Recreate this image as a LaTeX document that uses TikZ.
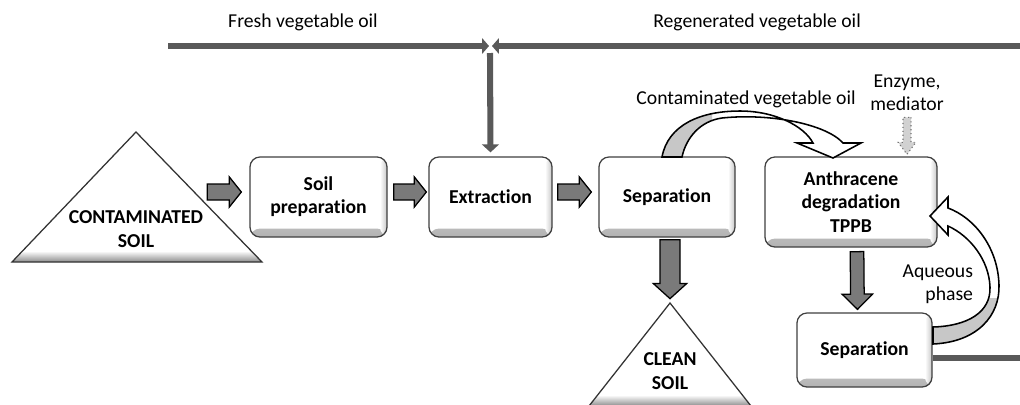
\documentclass[tikz,border=0pt]{standalone}
\usepackage{fontspec}
\setmainfont{Carlito}[Ligatures={NoCommon}]
\usetikzlibrary{calc,arrows.meta}

\tikzset{
  procbox/.style={draw=black!75, line width=0.9pt, fill=white, rounded corners=0.25cm,
    align=center, font=\fontsize{14}{16.5}\selectfont\bfseries, inner sep=2pt,
    path picture={
      \shade[top color=white, bottom color=black!30]
        ([yshift=6pt]path picture bounding box.south west) rectangle (path picture bounding box.south east);
      \shade[left color=white, right color=black!22]
        ([xshift=-5pt]path picture bounding box.north east) rectangle (path picture bounding box.south east);
    }},
  soiltext/.style={align=center, font=\fontsize{14}{17}\selectfont\bfseries},
  oiltext/.style={align=center},
  oilline/.style={line width=4.3pt, draw=black!65},
  blockarr/.style={fill=black!52, draw=black, line width=0.9pt, line join=miter},
  dotarr/.style={fill=black!18, draw=black!55, dotted, line width=0.8pt},
  ribbon/.style={draw=black, line width=1.1pt, line join=miter},
  soiltri/.style={draw=black!80, line width=0.9pt}
}

% tail, tip, half shaft, half head, head length
\newcommand{\blockarrow}[6][blockarr]{%
  \coordinate (hb) at ($(#3)!#6!(#2)$);
  \filldraw[#1] ($(#2)!#4!90:(#3)$) -- ($(hb)!#4!90:(#3)$) -- ($(hb)!#5!90:(#3)$) -- (#3)
    -- ($(hb)!#5!-90:(#3)$) -- ($(hb)!#4!-90:(#3)$) -- ($(#2)!#4!-90:(#3)$) -- cycle;
}

\def\oilribbon{(662,157) .. controls (668,125) and (700,111) .. (740,111)
  .. controls (775,111) and (804,126) .. (813,143) -- (797,143) -- (833,158) -- (861,143) -- (843,143)
  .. controls (826,124) and (770,113) .. (722,118) .. controls (700,121) and (686,138) .. (682,157) -- cycle}
\def\aqribbon{(933,344) .. controls (978,342) and (1000,315) .. (999,285)
  .. controls (998,248) and (975,218) .. (948,208) -- (948,197) -- (930,216) -- (948,235) -- (948,226)
  .. controls (970,236) and (989,260) .. (990,287) .. controls (991,312) and (968,326) .. (933,327) -- cycle}

\begin{document}
\begin{tikzpicture}[x=0.025cm,y=-0.025cm,every node/.style={font=\fontsize{14}{16.5}\selectfont}]
\useasboundingbox (0,0) rectangle (1020,404);

% vegetable oil line
\coordinate (fresh) at (168,46);
\coordinate (regen) at (1020,46);
\coordinate (meet) at (490,46);
\coordinate (regenout) at (1020,358);
\node[oiltext] (freshlbl) at (303,22) {Fresh vegetable oil};
\node[oiltext] (regenlbl) at (757,22) {Regenerated vegetable oil};

% soil piles
\begin{scope}
  \clip (12,262) -- (136,132) -- (262,262) -- cycle;
  \fill[white] (0,120) rectangle (280,270);
  \shade[top color=white, bottom color=black!45] (0,251) rectangle (280,262);
\end{scope}
\draw[soiltri] (12,262) -- (136,132) -- (262,262) -- cycle;
\node[soiltext] (csoil) at (136,229) {CONTAMINATED\\SOIL};

\begin{scope}
  \clip (589,406) -- (670,303) -- (751,406) -- cycle;
  \fill[white] (580,300) rectangle (760,410);
  \shade[top color=white, bottom color=black!45] (580,395) rectangle (760,406);
\end{scope}
\draw[soiltri] (589,406) -- (670,303) -- (751,406) -- cycle;
\node[soiltext] (clean) at (670,371) {CLEAN\\SOIL};

% process steps
\node[procbox, minimum width=3.425cm, minimum height=2cm] (prep) at (318.5,197) {Soil\\preparation};
\node[procbox, minimum width=3.075cm, minimum height=2cm] (extr) at (490.5,197) {Extraction};
\node[procbox, minimum width=3.4cm, minimum height=2cm] (sep) at (667,197) {Separation};
\node[procbox, minimum width=4.3cm, minimum height=2.25cm] (anth) at (851,202) {Anthracene\\degradation\\TPPB};
\node[procbox, minimum width=3.375cm, minimum height=1.85cm] (sep2) at (864.5,350) {Separation};

% oil flows
\draw[oilline,-{Triangle[length=0.17cm,width=0.38cm]}] (fresh) -- ($(meet)+(-1,0)$);
\draw[oilline,-{Triangle[length=0.17cm,width=0.38cm]}] (regen) -- ($(meet)+(2,0)$);
\coordinate (drop) at ($(meet)+(0,7)$);
\draw[oilline,-{Triangle[length=0.2cm,width=0.42cm]}] (drop) -- ($(extr.north)+(0,-4)$);
\draw[oilline] ($(sep2.east)+(0,8)$) -- (regenout);

% solid flows
\coordinate (t1) at ($(prep.west)+(-42,-5)$);  \coordinate (h1) at ($(prep.west)+(-8,-5)$);
\coordinate (t2) at ($(prep.east)+(6,-5)$);    \coordinate (h2) at ($(extr.west)+(-2,-5)$);
\coordinate (t3) at ($(extr.east)+(5,-5)$);    \coordinate (h3) at ($(sep.west)+(-7,-5)$);
\coordinate (t4) at ($(sep.south)+(3,2)$);     \coordinate (h4) at ($(sep.south)+(3,61)$);
\coordinate (t5) at ($(anth.south)+(6,4)$);    \coordinate (h5) at ($(sep2.north)+(-7,-3)$);
\blockarrow{t1}{h1}{0.2cm}{0.375cm}{0.3cm}
\blockarrow{t2}{h2}{0.2cm}{0.375cm}{0.3cm}
\blockarrow{t3}{h3}{0.2cm}{0.375cm}{0.3cm}
\blockarrow{t4}{h4}{0.25cm}{0.42cm}{0.38cm}
\blockarrow{t5}{h5}{0.17cm}{0.38cm}{0.38cm}

% enzyme feed
\node[oiltext] (enzyme) at (907,93) {Enzyme,\\mediator};
\coordinate (t6) at ($(anth.north)+(56,-39)$); \coordinate (h6) at ($(anth.north)+(56,-2)$);
\blockarrow[dotarr]{t6}{h6}{0.1cm}{0.22cm}{0.3cm}

% contaminated oil to TPPB
\fill[white] \oilribbon;
\begin{scope}
  \clip (640,100) rectangle (712,160);
  \fill[black!22] \oilribbon;
\end{scope}
\draw[ribbon] \oilribbon;
\node[oiltext] (cvo) at (746,99) {Contaminated vegetable oil};

% aqueous phase back to TPPB
\fill[white] \aqribbon;
\begin{scope}
  \clip (920,298) rectangle (1010,350);
  \fill[black!22] \aqribbon;
\end{scope}
\draw[ribbon] \aqribbon;
\node[oiltext, align=right, anchor=east] (aq) at (978,284) {Aqueous\\phase};
\end{tikzpicture}
\end{document}
